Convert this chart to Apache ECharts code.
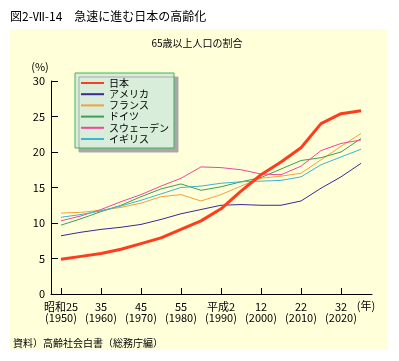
<!DOCTYPE html>
<html>
<head>
<meta charset="utf-8">
<script src="https://cdn.jsdelivr.net/npm/echarts@6/dist/echarts.min.js"></script>
<style>
html,body{margin:0;padding:0;background:#fff;}
#c{width:399px;height:361px;}
</style>
</head>
<body>
<div id="c"></div>
<script>
const years = [1950,1955,1960,1965,1970,1975,1980,1985,1990,1995,2000,2005,2010,2015,2020,2025];
const tickYears = [1950,1960,1970,1980,1990,2000,2010,2020];
const eraLabels = ['昭和25','35','45','55','平成2','12','22','32'];
const seriesNames = ['日本','アメリカ','フランス','ドイツ','スウェーデン','イギリス'];
const japan   = [4.9,5.3,5.7,6.3,7.1,7.9,9.1,10.3,12.0,14.5,16.8,18.6,20.6,24.0,25.4,25.8];
const america = [8.2,8.7,9.1,9.4,9.8,10.5,11.3,11.9,12.5,12.6,12.5,12.5,13.1,14.9,16.5,18.4];
const france  = [11.4,11.5,11.8,12.2,12.8,13.7,14.0,13.1,14.0,15.2,16.3,16.6,17.0,18.9,20.8,22.6];
const germany = [9.7,10.6,11.6,12.5,13.7,14.8,15.5,14.6,15.1,15.8,16.4,17.6,18.8,19.2,20.0,21.9];
const sweden  = [10.3,11.0,11.9,13.0,14.0,15.2,16.3,17.9,17.8,17.5,16.9,16.8,18.0,20.2,21.2,21.7];
const uk      = [10.8,11.2,11.7,12.4,13.2,14.1,15.0,15.2,15.6,15.8,15.9,16.0,16.5,18.2,19.3,20.4];

const colors = ['#FF3C1E','#3C2896','#F5A03C','#3CA050','#F0469B','#3CB4D2'];
const values = [japan, america, france, germany, sweden, uk];
const font = '"Noto Sans CJK JP", "Noto Sans", sans-serif';

const chart = echarts.init(document.getElementById('c'), null, {renderer:'canvas'});
const series = values.map((arr, i) => ({
  name: seriesNames[i],
  type: 'line',
  data: years.map((y, k) => [y, arr[k]]),
  showSymbol: false,
  symbol: 'none',
  smooth: false,
  z: i === 0 ? 10 : 3,
  lineStyle: {color: colors[i], width: i === 0 ? 3 : 1},
  itemStyle: {color: colors[i]}
}));

chart.setOption({
  backgroundColor: '#ffffff',
  animation: false,
  textStyle: {fontFamily: font},
  graphic: [
    {type:'rect', z:-10, shape:{x:10, y:29, width:378, height:321}, style:{fill:'#FFFFD9'}},
    {type:'text', left:10, top:10, style:{text:'図2-Ⅶ-14　急速に進む日本の高齢化', font:'12px ' + font, fill:'#000'}},
    {type:'text', x:197, y:43, style:{text:'65歳以上人口の割合', font:'10px ' + font, fill:'#000', align:'center', verticalAlign:'middle'}},
    {type:'text', x:40, y:67, style:{text:'(%)', font:'11px ' + font, fill:'#000', align:'center', verticalAlign:'middle'}},
    {type:'text', x:366, y:306, style:{text:'(年)', font:'11px ' + font, fill:'#000', align:'center', verticalAlign:'middle'}},
    {type:'text', x:13, y:343, style:{text:'資料）高齢社会白書（総務庁編）', font:'10px ' + font, fill:'#000', verticalAlign:'middle'}}
  ],
  legend: {
    orient: 'vertical',
    left: 75, top: 73,
    padding: [5, 5, 4, 5],
    itemWidth: 23, itemHeight: 10, itemGap: 1.2,
    backgroundColor: '#D8EEDA',
    borderColor: '#3CB45A', borderWidth: 1,
    shadowColor: '#A8A8A8', shadowBlur: 0, shadowOffsetX: 4, shadowOffsetY: 4,
    itemStyle: {opacity: 0},
    textStyle: {fontSize: 10, color: '#000', fontFamily: font},
    data: seriesNames
  },
  grid: {left: 51, top: 81, right: 27, bottom: 67, containLabel: false},
  xAxis: {
    type: 'value', min: 1947.5, max: 2027.75,
    axisLine: {show: true, lineStyle: {color: '#000', width: 1}},
    splitLine: {show: false},
    axisTick: {show: true, inside: true, length: 6, customValues: tickYears, lineStyle: {color:'#000'}},
    axisLabel: {
      show: true, customValues: tickYears, margin: 7,
      fontSize: 11, lineHeight: 11, color: '#000', fontFamily: font,
      formatter: v => { const i = tickYears.indexOf(v); return i < 0 ? '' : eraLabels[i] + '\n(' + v + ')'; }
    }
  },
  yAxis: {
    type: 'value', min: 0, max: 30, interval: 5,
    axisLine: {show: true, lineStyle: {color: '#000', width: 1}},
    splitLine: {show: false},
    axisTick: {show: true, inside: true, length: 7, lineStyle: {color:'#000'}},
    axisLabel: {fontSize: 11, color: '#000', margin: 6, fontFamily: font}
  },
  series: series
});
</script>
</body>
</html>
